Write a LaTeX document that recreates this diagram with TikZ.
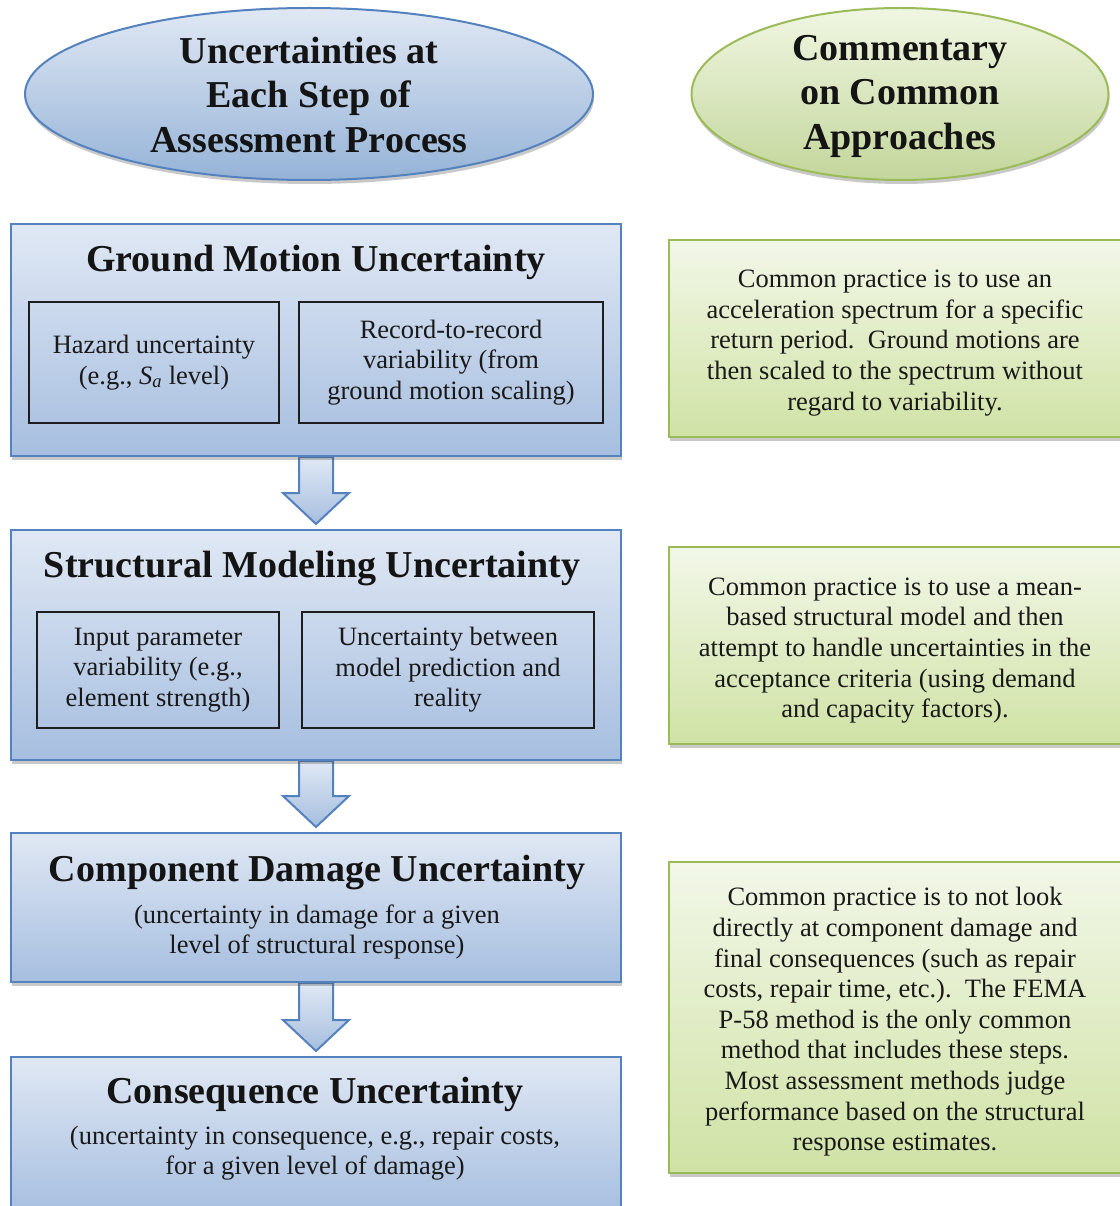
\documentclass[tikz,border=0pt]{standalone}
\usepackage{fontspec}
\setmainfont{Liberation Serif}
\usetikzlibrary{shapes.geometric,shadows,calc}

\definecolor{bluetop}{RGB}{224,232,244}
\definecolor{bluebot}{RGB}{166,190,223}
\definecolor{blueline}{RGB}{84,130,190}
\definecolor{greentop}{RGB}{242,247,232}
\definecolor{greenbot}{RGB}{208,226,165}
\definecolor{greenline}{RGB}{155,187,89}
\definecolor{ellbluetop}{RGB}{224,232,244}
\definecolor{ellbluebot}{RGB}{149,179,215}
\definecolor{ellgreentop}{RGB}{240,246,226}
\definecolor{ellgreenbot}{RGB}{195,214,155}
\definecolor{boxedge}{RGB}{30,30,30}

\newcommand\txtbody{\fontsize{26.5}{30.6}\selectfont}
\newcommand\txttitle{\bfseries\fontsize{38}{44.5}\selectfont}

\pgfdeclarelayer{background}
\pgfsetlayers{background,main}

\tikzset{
  softshadow/.style={drop shadow={shadow xshift=1pt, shadow yshift=-4pt, opacity=0.3, fill=black!70}},
  stagebox/.style={draw=blueline, line width=2pt, top color=bluetop, bottom color=bluebot,
    softshadow, inner sep=0pt, minimum width=610pt},
  notebox/.style={draw=greenline, line width=2pt, top color=greentop, bottom color=greenbot,
    softshadow, inner sep=0pt, minimum width=456pt},
  subbox/.style={draw=boxedge, line width=2.3pt, inner sep=0pt, align=center, font=\txtbody, text=black!90},
  headblue/.style={ellipse, draw=blueline, line width=2pt, top color=ellbluetop, bottom color=ellbluebot,
    softshadow, inner sep=0pt, minimum width=568pt, minimum height=172pt},
  headgreen/.style={ellipse, draw=greenline, line width=2pt, top color=ellgreentop, bottom color=ellgreenbot,
    softshadow, inner sep=0pt, minimum width=417pt, minimum height=172pt},
  headtext/.style={align=center, font=\txttitle, text=black!92, inner sep=0pt},
  stagetitle/.style={anchor=base, font=\txttitle, text=black!92, inner sep=0pt},
  stagenote/.style={align=center, font=\txtbody, text=black!90, inner sep=0pt},
  flowarrow/.style={draw=blueline, line width=2pt, top color=bluetop, bottom color=bluebot, line join=miter},
}

% block arrow running down from the bottom of #1 to the top of #2
\newcommand\flowarrow[2]{%
  \path[flowarrow]
    ($(#1.south)+(-17,0)$) -- ($(#1.south)+(17,0)$)
    -- ($(#1.south |- #2.north)+(17,-36)$) -- ($(#1.south |- #2.north)+(33,-36)$)
    -- ($(#1.south |- #2.north)+(0,-5)$)
    -- ($(#1.south |- #2.north)+(-33,-36)$) -- ($(#1.south |- #2.north)+(-17,-36)$)
    -- cycle;}

\begin{document}
\begin{tikzpicture}[x=1pt,y=-1pt]
\useasboundingbox (0,0) rectangle (1119,1206);

% column headers
\node[headblue] (hdrL) at (309,94) {};
\node[headtext] (hdrLtext) at (309,95) {Uncertainties at\\Each Step of\\Assessment Process};
\node[headgreen] (hdrR) at (900,94) {};
\node[headtext] (hdrRtext) at (900,96) {Commentary\\on Common\\Approaches};

% stage 1: ground motion
\node[stagebox, minimum height=232pt] (gm) at (316,340) {};
\node[stagetitle] (gmtitle) at (316,271) {Ground Motion Uncertainty};
\node[subbox, minimum width=250pt, minimum height=121pt] (hazard) at (154,362.5)
  {Hazard uncertainty\\(e.g., \textit{S\textsubscript{a}} level)};
\node[subbox, minimum width=304pt, minimum height=121pt] (rtr) at (451,362.5)
  {Record-to-record\\variability (from\\ground motion scaling)};

% stage 2: structural modeling
\node[stagebox, minimum height=230pt] (sm) at (316,645) {};
\node[stagetitle] (smtitle) at (312,577) {Structural Modeling Uncertainty};
\node[subbox, minimum width=242pt, minimum height=116pt] (inparam) at (158,670)
  {Input parameter\\variability (e.g.,\\element strength)};
\node[subbox, minimum width=292pt, minimum height=116pt] (modelerr) at (448,670)
  {Uncertainty between\\model prediction and\\reality};

% stage 3: component damage
\node[stagebox, minimum height=149pt] (cd) at (316,907.5) {};
\node[stagetitle] (cdtitle) at (317,881) {Component Damage Uncertainty};
\node[stagenote] (cdnote) at (317,932) {(uncertainty in damage for a given\\level of structural response)};

% stage 4: consequence
\node[stagebox, minimum height=158pt] (cu) at (316,1136) {};
\node[stagetitle] (cutitle) at (315,1103) {Consequence Uncertainty};
\node[stagenote] (cunote) at (315,1153) {(uncertainty in consequence, e.g., repair costs,\\for a given level of damage)};

% commentary boxes
\node[notebox, minimum height=197pt] (noteA) at (897,338.5) {};
\node[stagenote] (noteAtext) at (895,343)
  {Common practice is to use an\\acceleration spectrum for a specific\\return period.\ \ Ground motions are\\then scaled to the spectrum without\\regard to variability.};
\node[notebox, minimum height=197pt] (noteB) at (897,645.5) {};
\node[stagenote] (noteBtext) at (895,650.5)
  {Common practice is to use a mean-\\based structural model and then\\attempt to handle uncertainties in the\\acceptance criteria (using demand\\and capacity factors).};
\node[notebox, minimum height=311pt] (noteC) at (897,1017.5) {};
\node[stagenote] (noteCtext) at (895,1022)
  {Common practice is to not look\\directly at component damage and\\final consequences (such as repair\\costs, repair time, etc.).\ \ The FEMA\\P-58 method is the only common\\method that includes these steps.\\Most assessment methods judge\\performance based on the structural\\response estimates.};

% flow arrows between stages
\begin{pgfonlayer}{background}
  \flowarrow{gm}{sm}
  \flowarrow{sm}{cd}
  \flowarrow{cd}{cu}
\end{pgfonlayer}
\end{tikzpicture}
\end{document}
